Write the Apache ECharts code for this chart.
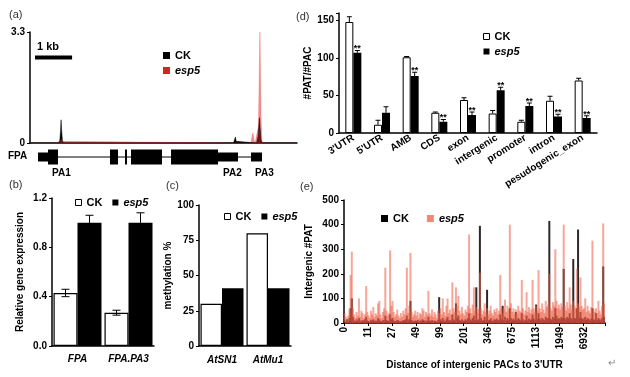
<!DOCTYPE html>
<html>
<head>
<meta charset="utf-8">
<script src="https://cdn.jsdelivr.net/npm/echarts@6/dist/echarts.min.js"></script>
<style>
html, body { margin: 0; background: #fff; }
#main { width: 630px; height: 377px; }
</style>
</head>
<body>
<div id="main"></div>
<script>
var FONT = 'Liberation Sans, Arial, sans-serif';

// (a) read coverage over FPA, [bp, value]
var ckTrack = [[0, 0], [770, 0], [805, 0.08], [825, 0.4], [838, 0.69], [852, 0.4], [875, 0.06], [905, 0],
  [5260, 0], [5290, 0.05], [5320, 0], [5490, 0], [5520, 0.12], [5540, 0.18], [5560, 0.05], [5590, 0],
  [6110, 0], [6150, 0.2], [6172, 0.55], [6188, 0.75], [6205, 0.45], [6230, 0.1], [6260, 0], [7200, 0]];
var esp5Track = [[0, 0], [790, 0], [825, 0.06], [850, 0.12], [875, 0.05], [905, 0],
  [5500, 0], [5530, 0.05], [5560, 0], [5960, 0], [5990, 0.22], [6015, 0.3], [6040, 0.08], [6070, 0],
  [6120, 0], [6160, 0.5], [6185, 2.2], [6200, 3.3], [6212, 2.4], [6228, 0.9], [6250, 0.1], [6275, 0], [7200, 0]];
var fpaSpan = [[216, 6257]];
var fpaExons = [[216, 485, 0], [485, 755, 1], [2157, 2373, 1], [2562, 2616, 1], [2724, 3560, 1],
  [3803, 5070, 1], [5070, 5609, 0], [5960, 6257, 0]];
var scaleBar = [[135, 1135, 2.54]];

// (b) relative expression
var qpcrCats = ['FPA', 'FPA.PA3'];
var qpcrCK = [0.43, 0.27];
var qpcrCKErr = [0.03, 0.02];
var qpcrEsp5 = [1.0, 1.0];
var qpcrEsp5Err = [0.06, 0.08];

// (c) methylation
var methCats = ['AtSN1', 'AtMu1'];
var methCK = [30, 80];
var methEsp5 = [41, 41];

// (d) PAT/PAC by region
var regionCats = ["3'UTR", "5'UTR", 'AMB', 'CDS', 'exon', 'intergenic', 'promoter', 'intron', 'pesudogenic_exon'];
var regionCK = [148, 11, 101, 27, 44, 26, 15, 43, 70];
var regionCKErr = [7, 6, 1, 1, 3, 4, 2, 6, 3];
var regionEsp5 = [107, 27, 76, 15, 24, 57, 36, 22, 20];
var regionEsp5Err = [3, 8, 5, 3, 4, 4, 4, 3, 3];
var regionStars = ['**', '', '**', '**', '**', '**', '**', '**', '**'];

// (e) intergenic PAT by distance
var distTickLabels = ['0', '11', '27', '49', '99', '201', '346', '675', '1113', '1949', '6932'];
var interCK = [
  10, 5, 15, 8, 20, 60, 100, 25, 10, 5, 15, 8, 20, 10, 5, 12, 8, 15, 25, 10,
  8, 5, 12, 10, 15, 6, 10, 8, 20, 15, 8, 5, 12, 10, 30, 12, 8, 10, 35, 15,
  20, 10, 6, 8, 12, 10, 5, 8, 6, 12, 10, 15, 30, 10, 15, 90, 12, 6, 8, 10,
  8, 12, 5, 10, 8, 15, 12, 6, 10, 8, 25, 10, 8, 12, 6, 10, 8, 5, 12, 105,
  15, 8, 20, 10, 6, 15, 25, 10, 12, 8, 35, 15, 10, 80, 20, 30, 12, 8, 15, 10,
  8, 15, 10, 20, 40, 15, 10, 20, 30, 12, 145, 10, 15, 395, 20, 8, 12, 25, 10, 135,
  10, 12, 20, 10, 8, 15, 12, 18, 10, 12, 35, 15, 70, 12, 25, 10, 20, 12, 60, 20,
  12, 18, 10, 45, 12, 20, 15, 10, 40, 15, 8, 12, 30, 10, 18, 12, 15, 35, 18, 12,
  75, 15, 40, 18, 12, 20, 15, 10, 25, 18, 20, 415, 18, 12, 25, 20, 60, 30, 15, 20,
  15, 25, 20, 220, 20, 15, 25, 18, 40, 20, 15, 260, 20, 18, 60, 380, 20, 45, 20, 15,
  18, 25, 12, 20, 15, 10, 18, 60, 15, 12, 40, 12, 20, 15, 10, 20, 230, 25
];
var interEsp5 = [
  40, 25, 15, 30, 55, 195, 290, 60, 35, 20, 45, 30, 100, 25, 50, 40, 20, 35, 150, 45,
  30, 20, 50, 35, 65, 25, 40, 30, 80, 90, 35, 20, 45, 60, 225, 50, 30, 40, 295, 70,
  90, 45, 25, 35, 55, 30, 20, 40, 25, 50, 35, 60, 225, 40, 70, 285, 45, 25, 35, 50,
  30, 45, 20, 40, 35, 60, 50, 25, 45, 35, 130, 40, 30, 55, 25, 45, 35, 20, 50, 40,
  60, 35, 100, 45, 30, 70, 100, 40, 55, 30, 165, 60, 45, 145, 70, 110, 50, 35, 65, 40,
  30, 55, 45, 70, 360, 60, 40, 75, 145, 50, 65, 40, 55, 205, 60, 35, 50, 80, 45, 60,
  35, 50, 70, 40, 30, 55, 45, 60, 35, 50, 195, 60, 40, 55, 95, 45, 70, 50, 400, 80,
  45, 60, 35, 55, 40, 70, 50, 45, 175, 60, 35, 50, 125, 45, 65, 40, 55, 175, 60, 45,
  70, 50, 215, 60, 45, 80, 55, 40, 90, 65, 75, 200, 60, 50, 85, 70, 300, 90, 60, 75,
  55, 80, 65, 400, 70, 50, 85, 60, 145, 75, 55, 90, 70, 60, 220, 80, 65, 185, 70, 55,
  60, 100, 45, 70, 50, 40, 65, 335, 55, 45, 60, 40, 90, 50, 35, 70, 405, 80
];
var distCats = interCK.map(function (v, i) { return String(i); });

var myChart = echarts.init(document.getElementById('main'));

function withErr(vals, errs) {
  return vals.map(function (v, i) { return [i, v, errs[i]]; });
}

// error bars drawn with the axis scale; off = px offset of the bar centre
function errBars(off, cap, both, stars) {
  return function (params, api) {
    var i = api.value(0), v = api.value(1), e = api.value(2);
    var p0 = api.coord([i, both ? v - e : v]);
    var p1 = api.coord([i, v + e]);
    var x = p0[0] + off;
    var kids = [
      { type: 'line', shape: { x1: x, y1: p0[1], x2: x, y2: p1[1] }, style: { stroke: '#000', lineWidth: 1 } },
      { type: 'line', shape: { x1: x - cap, y1: p1[1], x2: x + cap, y2: p1[1] }, style: { stroke: '#000', lineWidth: 1 } }
    ];
    if (both) {
      kids.push({ type: 'line', shape: { x1: x - cap, y1: p0[1], x2: x + cap, y2: p0[1] }, style: { stroke: '#000', lineWidth: 1 } });
    }
    if (stars && stars[i]) {
      kids.push({ type: 'text', x: x, y: p1[1] + 3, style: { text: stars[i], font: 'bold 9px ' + FONT, align: 'center', verticalAlign: 'bottom', fill: '#000' } });
    }
    return { type: 'group', children: kids };
  };
}

var axLabel = { fontFamily: FONT, fontWeight: 'bold', fontSize: 10, color: '#000' };
var axName = { fontFamily: FONT, fontWeight: 'bold', fontSize: 10, color: '#000' };
var blackLine = { show: true, lineStyle: { color: '#000', width: 1.5 } };

function yAx(gi, min, max, interval, name, nameGap) {
  return {
    gridIndex: gi, type: 'value', min: min, max: max, interval: interval,
    name: name, nameLocation: 'middle', nameGap: nameGap, nameTextStyle: axName,
    axisLine: blackLine, axisTick: { show: true, length: 3, lineStyle: { color: '#000' } },
    axisLabel: Object.assign({ margin: 5 }, axLabel), splitLine: { show: false }
  };
}
function catAx(gi, cats, extra) {
  return Object.assign({
    gridIndex: gi, type: 'category', data: cats,
    axisLine: blackLine, axisTick: { show: false },
    axisLabel: Object.assign({ margin: 6, interval: 0 }, axLabel), splitLine: { show: false }
  }, extra || {});
}

function legendItems(ckStyle, esp5Style) {
  return [
    { name: 'CK', icon: 'rect', itemStyle: ckStyle },
    { name: 'esp5', icon: 'rect', itemStyle: esp5Style, textStyle: { fontStyle: 'italic' } }
  ];
}
var legText = { fontFamily: FONT, fontWeight: 'bold', fontSize: 11, color: '#000' };
var whiteBox = { color: '#fff', borderColor: '#000', borderWidth: 1 };
var blackBox = { color: '#000', borderColor: '#000', borderWidth: 0 };

var option = {
  animation: false,
  backgroundColor: '#fff',
  grid: [
    { left: 30, top: 32, width: 267, height: 111 },   // a track
    { left: 30, top: 148, width: 267, height: 18 },   // a gene model
    { left: 52, top: 198, width: 102, height: 148 },  // b
    { left: 199, top: 205, width: 92, height: 141 },  // c
    { left: 339, top: 13, width: 258, height: 120 },  // d
    { left: 344, top: 200, width: 261, height: 123 }  // e
  ],
  legend: [
    { left: 158, top: 45, orient: 'vertical', itemGap: 4, itemWidth: 7, itemHeight: 7, selectedMode: false, textStyle: legText,
      data: legendItems(blackBox, { color: '#e02020', borderWidth: 0 }) },
    { left: 70, top: 192, itemGap: 10, itemWidth: 6, itemHeight: 6, selectedMode: false, textStyle: legText,
      data: legendItems(whiteBox, blackBox) },
    { left: 219, top: 206, itemGap: 10, itemWidth: 6, itemHeight: 6, selectedMode: false, textStyle: legText,
      data: legendItems(whiteBox, blackBox) },
    { left: 478, top: 26, orient: 'vertical', itemGap: 4, itemWidth: 6, itemHeight: 6, selectedMode: false, textStyle: legText,
      data: legendItems(whiteBox, blackBox) },
    { left: 376, top: 208, itemGap: 18, itemWidth: 7, itemHeight: 7, selectedMode: false, textStyle: legText,
      data: legendItems(blackBox, { color: '#f08a75', borderWidth: 0 }) }
  ],
  xAxis: [
    { gridIndex: 0, type: 'value', min: 0, max: 7200, axisLine: { show: true, onZero: false, lineStyle: { color: '#000', width: 1.5 } },
      axisTick: { show: false }, axisLabel: { show: false }, splitLine: { show: false } },
    { gridIndex: 1, type: 'value', min: 0, max: 7200, show: false },
    catAx(2, qpcrCats, { axisLabel: Object.assign({ margin: 8, interval: 0, fontStyle: 'italic' }, axLabel) }),
    catAx(3, methCats, { axisLabel: Object.assign({ margin: 9, interval: 0, fontStyle: 'italic' }, axLabel) }),
    catAx(4, regionCats, { axisLabel: Object.assign({ margin: 4, rotate: 32, interval: 0 }, axLabel) }),
    catAx(5, distCats, {
      name: "Distance of intergenic PACs to 3'UTR", nameLocation: 'middle', nameGap: 37, nameTextStyle: axName,
      axisTick: { show: true, length: 3, interval: function (i) { return i % 20 === 0; }, lineStyle: { color: '#000' } },
      axisLabel: Object.assign({ margin: 4, rotate: 90,
        interval: function (i) { return i % 20 === 0; },
        formatter: function (v, i) { return distTickLabels[i / 20] || ''; } }, axLabel)
    })
  ],
  yAxis: [
    Object.assign(yAx(0, 0, 3.3, 3.3, '', 0), { axisLabel: Object.assign({ margin: 5 }, axLabel) }),
    { gridIndex: 1, type: 'value', min: 0, max: 1, show: false },
    Object.assign(yAx(2, 0, 1.2, 0.4, 'Relative gene expression', 27), {
      axisLabel: Object.assign({ margin: 5, formatter: function (v) { return v.toFixed(1); } }, axLabel) }),
    yAx(3, 0, 100, 25, 'methylation %', 26),
    Object.assign(yAx(4, 0, 160, 50, '#PAT/#PAC', 26), {
      axisLabel: Object.assign({ margin: 5, formatter: function (v) { return v % 50 === 0 ? v : ''; } }, axLabel) }),
    yAx(5, 0, 500, 100, 'Intergenic #PAT', 30)
  ],
  series: [
    // (a)
    { name: 'CK', type: 'line', xAxisIndex: 0, yAxisIndex: 0, data: ckTrack, symbol: 'none', smooth: false,
      lineStyle: { color: '#000', width: 0.5 }, areaStyle: { color: '#000', opacity: 1 }, itemStyle: { color: '#000' } },
    { name: 'esp5', type: 'line', xAxisIndex: 0, yAxisIndex: 0, data: esp5Track, symbol: 'none',
      lineStyle: { color: 'rgba(230,40,40,0.5)', width: 0.5 }, areaStyle: { color: 'rgba(230,40,40,0.5)', opacity: 1 }, itemStyle: { color: '#e02020' } },
    { type: 'custom', xAxisIndex: 0, yAxisIndex: 0, data: scaleBar, silent: true,
      renderItem: function (params, api) {
        var a = api.coord([api.value(0), api.value(2)]);
        var b = api.coord([api.value(1), api.value(2)]);
        return { type: 'group', children: [
          { type: 'rect', shape: { x: a[0], y: a[1] - 2, width: b[0] - a[0], height: 4 }, style: { fill: '#000' } },
          { type: 'text', x: a[0] + 2, y: a[1] - 5, style: { text: '1 kb', font: 'bold 11px ' + FONT, fill: '#000', verticalAlign: 'bottom' } }
        ] };
      } },
    { type: 'custom', xAxisIndex: 1, yAxisIndex: 1, data: fpaSpan, silent: true,
      renderItem: function (params, api) {
        var a = api.coord([api.value(0), 0.5]), b = api.coord([api.value(1), 0.5]);
        return { type: 'line', shape: { x1: a[0], y1: a[1], x2: b[0], y2: b[1] }, style: { stroke: '#000', lineWidth: 1 } };
      } },
    { type: 'custom', xAxisIndex: 1, yAxisIndex: 1, data: fpaExons, silent: true,
      renderItem: function (params, api) {
        var a = api.coord([api.value(0), 0.5]), b = api.coord([api.value(1), 0.5]);
        var h = api.value(2) ? 15 : 9;
        return { type: 'rect', shape: { x: a[0], y: a[1] - h / 2, width: Math.max(b[0] - a[0], 1.5), height: h }, style: { fill: '#000' } };
      } },
    // (b)
    { name: 'CK', type: 'bar', xAxisIndex: 2, yAxisIndex: 2, data: qpcrCK, barWidth: 24, barGap: '0%',
      itemStyle: { color: '#fff', borderColor: '#000', borderWidth: 1.2 } },
    { name: 'esp5', type: 'bar', xAxisIndex: 2, yAxisIndex: 2, data: qpcrEsp5, barWidth: 24, barGap: '0%',
      itemStyle: { color: '#000' } },
    { type: 'custom', xAxisIndex: 2, yAxisIndex: 2, data: withErr(qpcrCK, qpcrCKErr), renderItem: errBars(-12, 4, true), silent: true, z: 5 },
    { type: 'custom', xAxisIndex: 2, yAxisIndex: 2, data: withErr(qpcrEsp5, qpcrEsp5Err), renderItem: errBars(12, 4, true), silent: true, z: 5 },
    // (c)
    { name: 'CK', type: 'bar', xAxisIndex: 3, yAxisIndex: 3, data: methCK, barWidth: 21.5, barGap: '0%',
      itemStyle: { color: '#fff', borderColor: '#000', borderWidth: 1.2 } },
    { name: 'esp5', type: 'bar', xAxisIndex: 3, yAxisIndex: 3, data: methEsp5, barWidth: 21.5, barGap: '0%',
      itemStyle: { color: '#000' } },
    // (d)
    { name: 'CK', type: 'bar', xAxisIndex: 4, yAxisIndex: 4, data: regionCK, barWidth: 8, barGap: '0%',
      itemStyle: { color: '#fff', borderColor: '#000', borderWidth: 1 } },
    { name: 'esp5', type: 'bar', xAxisIndex: 4, yAxisIndex: 4, data: regionEsp5, barWidth: 8, barGap: '0%',
      itemStyle: { color: '#000' } },
    { type: 'custom', xAxisIndex: 4, yAxisIndex: 4, data: withErr(regionCK, regionCKErr), renderItem: errBars(-4, 2.5, false), silent: true, z: 5 },
    { type: 'custom', xAxisIndex: 4, yAxisIndex: 4, data: withErr(regionEsp5, regionEsp5Err), renderItem: errBars(4, 2.5, false, regionStars), silent: true, z: 5 },
    // (e)
    { name: 'CK', type: 'bar', xAxisIndex: 5, yAxisIndex: 5, data: interCK, barWidth: 2, barGap: '-100%',
      itemStyle: { color: 'rgba(10,0,0,0.85)' } },
    { name: 'esp5', type: 'bar', xAxisIndex: 5, yAxisIndex: 5, data: interEsp5, barWidth: 2, barGap: '-100%',
      itemStyle: { color: 'rgba(238,95,70,0.55)' } }
  ],
  graphic: [
    { type: 'text', left: 9, top: 9, style: { text: '(a)', font: '11px ' + FONT, fill: '#333' } },
    { type: 'text', left: 9, top: 179, style: { text: '(b)', font: '11px ' + FONT, fill: '#333' } },
    { type: 'text', left: 166, top: 180, style: { text: '(c)', font: '11px ' + FONT, fill: '#333' } },
    { type: 'text', left: 296, top: 11, style: { text: '(d)', font: '11px ' + FONT, fill: '#333' } },
    { type: 'text', left: 300, top: 181, style: { text: '(e)', font: '11px ' + FONT, fill: '#333' } },
    { type: 'text', left: 8, top: 151, style: { text: 'FPA', font: 'bold 10px ' + FONT, fill: '#000' } },
    { type: 'text', left: 52, top: 168, style: { text: 'PA1', font: 'bold 10px ' + FONT, fill: '#000' } },
    { type: 'text', left: 223, top: 168, style: { text: 'PA2', font: 'bold 10px ' + FONT, fill: '#000' } },
    { type: 'text', left: 255, top: 168, style: { text: 'PA3', font: 'bold 10px ' + FONT, fill: '#000' } },
    { type: 'text', left: 608, top: 358, style: { text: '\u21b5', font: '10px ' + FONT, fill: '#888' } }
  ]
};

myChart.setOption(option);
window.addEventListener('resize', function () {
  myChart.resize();
});
</script>
</body>
</html>
